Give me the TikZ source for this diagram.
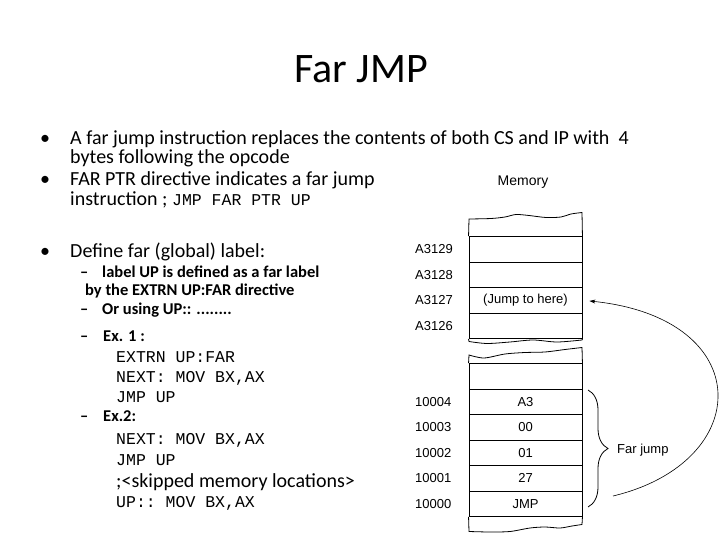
\documentclass[tikz,border=0pt]{standalone}
\usepackage{fontspec}
\setmainfont{Carlito}
\setmonofont{Liberation Mono}
\newfontfamily\memfont{Liberation Sans}
\usetikzlibrary{arrows.meta}
\usetikzlibrary{decorations.pathreplacing}

\begin{document}
\begin{tikzpicture} [x=1pt, y=-1pt,
  txt/.style={anchor=base west, inner sep=0pt, font=\fontsize{20}{24}\selectfont},
  sub/.style={anchor=base west, inner sep=0pt, font=\fontsize{16.5}{19}\selectfont\bfseries},
  code/.style={anchor=base west, inner sep=0pt, font=\fontsize{16.5}{19}\selectfont\ttfamily},
  cell/.style={draw, line width=.9pt, minimum width=113pt, minimum height=25.5pt, inner sep=0pt, font=\memfont\fontsize{13}{15}\selectfont},
  addr/.style={anchor=west, inner sep=0pt, font=\memfont\fontsize{13}{15}\selectfont},
  edge/.style={line width=.8pt}]
\useasboundingbox[fill=white] (0,0) rectangle (720,540);

\node (title) [anchor=base, font=\fontsize{42}{50}\selectfont] at (361,83) {Far JMP};

\foreach \y [count=\i] in {145,186,257} \node (dot\i) [txt, anchor=base] at (45,\y) {•};
\node (l1) [txt] at (70,145) {A far jump instruction replaces the contents of both CS and IP with\ \ 4};
\node (l2) [txt] at (70,164) {bytes following the opcode};
\node (l3) [txt] at (70,186) {FAR PTR directive indicates a far jump};
\node (l4) [txt] at (70,206) {instruction ; {\ttfamily\fontsize{16.5}{19}\selectfont JMP FAR PTR UP}};
\node (l5) [txt] at (70,257) {Define far (global) label:};

\foreach \y [count=\i] in {277,314,341,421} \node (dash\i) [sub] at (80,\y) {–};
\node (s1) [sub] at (102,277) {label UP is defined as a far label};
\node (s2) [sub] at (85,295) {by the EXTRN UP:FAR directive};
\node (s3) [sub] at (102,314) {Or using UP:: ........};
\node (s4) [sub] at (103,341) {Ex. 1 :};
\node (c1) [code] at (116,362) {EXTRN UP:FAR};
\node (c2) [code] at (116,382) {NEXT: MOV BX,AX};
\node (c3) [code] at (116,402) {JMP UP};
\node (s5) [sub] at (103,421) {Ex.2:};
\node (c4) [code] at (116,444) {NEXT: MOV BX,AX};
\node (c5) [code] at (116,465) {JMP UP};
\node (l6) [txt] at (116,487) {;<skipped memory locations>};
\node (c6) [code] at (116,507) {UP:: MOV BX,AX};

\node (mem) [font=\memfont\fontsize{14}{16}\selectfont] at (523,182) {Memory};

\foreach \a/\t [count=\i] in {A3129/{},A3128/{},A3127/{(Jump to here)},A3126/{}} {
  \node (u\i) [cell] at (525.5,223.75+25.5*\i) {\t};
  \node (ua\i) [addr] at (415,223.75+25.5*\i) {\a};
}
\node (m0) [cell] at (525.5,376.25) {};
\foreach \a/\t [count=\i] in {10004/A3,10003/00,10002/01,10001/27,10000/JMP} {
  \node (m\i) [cell] at (525.5,376.25+25.5*\i) {\t};
  \node (ma\i) [addr] at (415,376.25+25.5*\i) {\a};
}

\draw[edge] (u1.north west) -- plot[smooth] coordinates {(469,219) (491,218.5) (505,217) (516,214.5) (529,215.5) (546,217.5) (561,217) (571,214) (582,212.5)} -- (u1.north east);
\draw[edge] (u4.south west) -- plot[smooth] coordinates {(469,341.5) (487,343.5) (510,342) (533,340) (557,342) (582,340)} -- (u4.south east);
\draw[edge] (m0.north west) -- plot[smooth] coordinates {(469,355) (484,358) (505,354) (525,352.5) (545,352) (565,349.5) (582,347.5)} -- (m0.north east);
\draw[edge] (m5.south west) -- plot[smooth] coordinates {(469,531.5) (490,532) (510,531.5) (530,528) (545,527) (560,528) (572,526) (582,524.5)} -- (m5.south east);

\coordinate (btop) at (588,390);
\coordinate (bbot) at (588,507);
\draw[edge, decorate, decoration={brace, amplitude=20pt}] (btop) -- (bbot);
\node (fj) [addr] at (617,450) {Far jump};

\coordinate (jfrom) at (613,496);
\draw[-{Stealth[length=6pt, width=4pt]}, line width=.6pt, shorten >=7pt] (jfrom) .. controls +(142,-34) and +(175,18) .. (u3.east);

\end{tikzpicture}
\end{document}
